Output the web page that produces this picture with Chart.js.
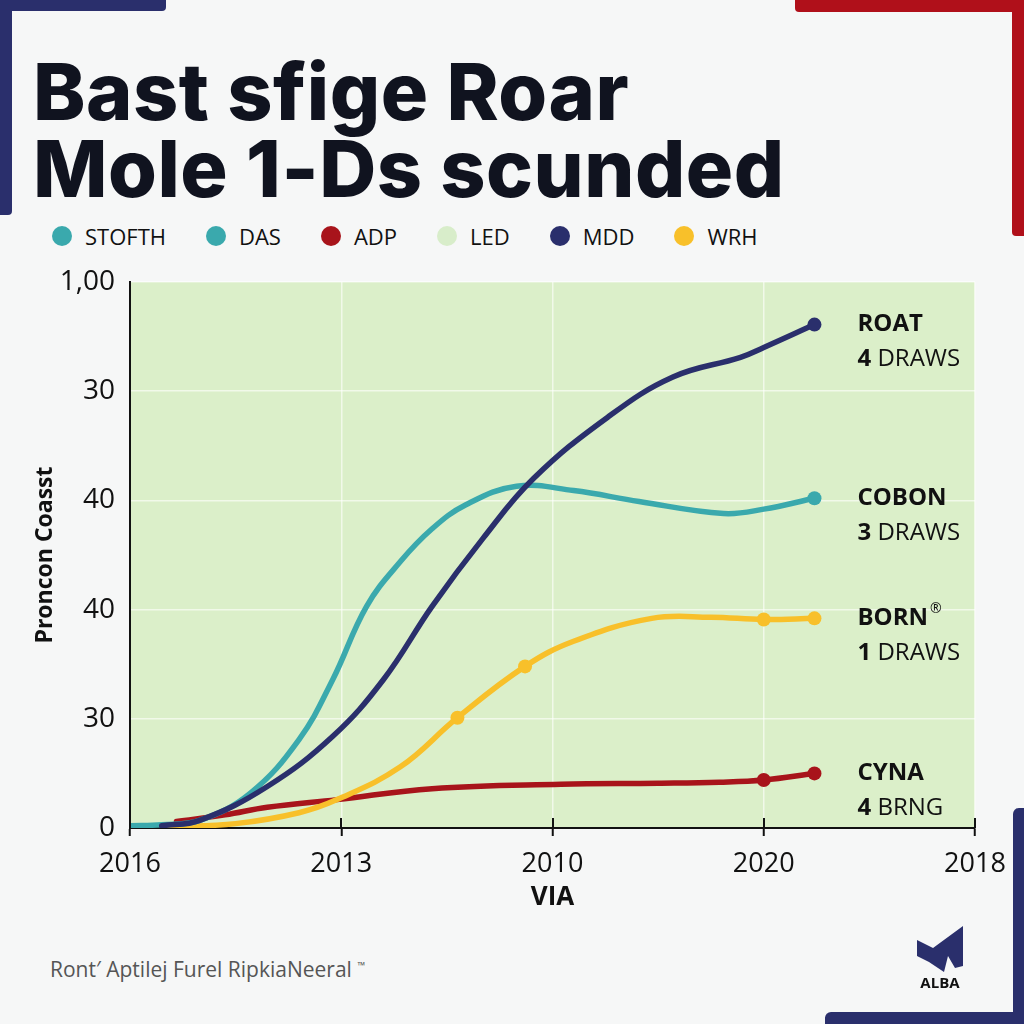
<!DOCTYPE html>
<html>
<head>
<meta charset="utf-8">
<script src="https://cdn.jsdelivr.net/npm/chart.js@4.4.0/dist/chart.umd.min.js"></script>
<style>
  html, body { margin: 0; padding: 0; }
  body { width: 1024px; height: 1024px; background: #f6f7f7; position: relative; overflow: hidden; font-family: "Open Sans", sans-serif; color: #111; }
  .bar { position: absolute; }
  h1 { position: absolute; left: 33px; top: 53px; margin: 0; font-family: Inter, sans-serif; font-weight: 800; font-size: 79px; line-height: 77px; letter-spacing: 0.5px; color: #10131f; white-space: nowrap; }
  #legend { position: absolute; left: 52px; top: 221px; display: flex; align-items: center; font-size: 22px; line-height: 30px; }
  .item { display: flex; align-items: center; margin-right: 40px; }
  .dot { width: 20px; height: 20px; border-radius: 50%; margin-right: 13px; }
  #wrap { position: absolute; left: 0; top: 240px; width: 1024px; height: 700px; }
  #foot { position: absolute; left: 50px; top: 951px; font-size: 21px; line-height: 29px; color: #555; }
  #logo { position: absolute; left: 917px; top: 926px; }
  #alba { position: absolute; left: 910px; top: 972px; width: 60px; text-align: center; font-weight: 700; font-size: 15px; line-height: 20px; }
</style>
</head>
<body>
<div class="bar" style="left:0;top:0;width:166px;height:11px;background:#2a2f6c;border-bottom-right-radius:4px"></div>
<div class="bar" style="left:0;top:0;width:12px;height:215px;background:#2a2f6c;border-bottom-right-radius:4px"></div>
<div class="bar" style="left:795px;top:0;width:229px;height:12px;background:#b0101a;border-bottom-left-radius:4px"></div>
<div class="bar" style="left:1012px;top:0;width:12px;height:236px;background:#b0101a;border-bottom-left-radius:4px"></div>
<div class="bar" style="left:1013px;top:808px;width:11px;height:216px;background:#2a2f6c;border-top-left-radius:6px"></div>
<div class="bar" style="left:825px;top:1012px;width:199px;height:12px;background:#2a2f6c;border-top-left-radius:6px"></div>

<h1>Bast sfige Roar<br>Mole 1-Ds scunded</h1>
<div id="legend"></div>
<div id="wrap"><canvas id="chart" width="1024" height="700"></canvas></div>
<div id="foot">Ront′ Aptilej Furel RipkiaNeeral <sup style="font-size:10px">™</sup></div>
<svg id="logo" width="46" height="46" viewBox="0 0 46 46">
  <polygon points="0,14 16,22 46,0 46,40 38,42 31,30 27,46 12,36 0,30" fill="#2a2f6c"/>
</svg>
<div id="alba">ALBA</div>

<script>
// axis / legend text
const xLabels = ["2016", "2013", "2010", "2020", "2018"];
const yLabels = ["0", "30", "40", "40", "30", "1,00"];
const legendNames = ["STOFTH", "DAS", "ADP", "LED", "MDD", "WRH"];
const legendColors = ["#3aa9ad", "#3aa9ad", "#a8141b", "#d8edca", "#2a2f6c", "#f8c02a"];

// series values (x on the 0..4 tick scale, y on the 0..5 tick scale)
const navyX = [0.15, 0.33, 0.65, 0.96, 1.20, 1.43, 1.67, 1.91, 2.26, 2.57, 2.89, 3.0, 3.24];
const navyY = [0.02, 0.07, 0.38, 0.84, 1.36, 2.03, 2.65, 3.2, 3.76, 4.13, 4.31, 4.40, 4.61];
const tealX = [0, 0.15, 0.33, 0.57, 0.80, 0.96, 1.12, 1.28, 1.43, 1.59, 1.83, 2.10, 2.41, 2.81, 3.0, 3.24];
const tealY = [0.02, 0.03, 0.07, 0.32, 0.81, 1.36, 2.03, 2.44, 2.74, 2.96, 3.13, 3.09, 2.99, 2.88, 2.92, 3.02];
const yellowX = [0.18, 0.5, 0.8, 0.98, 1.28, 1.55, 1.87, 2.1, 2.47, 2.75, 3.0, 3.24];
const yellowY = [0.01, 0.04, 0.14, 0.26, 0.56, 1.01, 1.48, 1.71, 1.92, 1.93, 1.91, 1.92];
const redX = [0.22, 0.45, 0.65, 0.98, 1.43, 2.04, 2.5, 2.79, 3.0, 3.24];
const redY = [0.06, 0.12, 0.19, 0.26, 0.36, 0.40, 0.41, 0.42, 0.44, 0.50];

// which points get a visible dot
const navyDots = [12];
const tealDots = [15];
const yellowDots = [5, 6, 10, 11];
const redDots = [8, 9];

// end-of-line labels
const endTitles = ["ROAT", "COBON", "BORN", "CYNA"];
const endMarks = ["", "", "®", ""];
const endCounts = ["4", "3", "1", "4"];
const endUnits = ["DRAWS", "DRAWS", "DRAWS", "BRNG"];

// html legend
const legendEl = document.getElementById("legend");
legendNames.forEach((name, i) => {
  const item = document.createElement("div");
  item.className = "item";
  item.innerHTML = '<span class="dot" style="background:' + legendColors[i] + '"></span><span>' + name + "</span>";
  legendEl.appendChild(item);
});

function pts(xs, ys) {
  return xs.map((x, i) => ({x: x, y: ys[i]}));
}
function dotSize(list) {
  return ctx => (list.includes(ctx.dataIndex) ? 7 : 0);
}
function line(label, xs, ys, color, dots) {
  return {
    label: label,
    data: pts(xs, ys),
    borderColor: color,
    backgroundColor: color,
    borderWidth: 5.5,
    tension: 0.4,
    pointRadius: dotSize(dots),
    pointHoverRadius: 0,
    pointBorderWidth: 0,
    pointBackgroundColor: color,
    borderCapStyle: "round",
    fill: false
  };
}

// green plot background
const plotBg = {
  id: "plotBg",
  beforeDraw(chart) {
    const a = chart.chartArea;
    const ctx = chart.ctx;
    ctx.save();
    ctx.fillStyle = "#dbefc9";
    ctx.fillRect(a.left, a.top, a.right - a.left, a.bottom - a.top);
    ctx.restore();
  }
};

// x tick marks cross the axis line
const upTicks = {
  id: "upTicks",
  afterDraw(chart) {
    const xs = chart.scales.x;
    const ctx = chart.ctx;
    const b = chart.chartArea.bottom;
    ctx.save();
    ctx.strokeStyle = "#111";
    ctx.lineWidth = 2;
    xs.ticks.forEach(t => {
      const px = Math.round(xs.getPixelForValue(t.value));
      ctx.beginPath();
      ctx.moveTo(px, b - 10);
      ctx.lineTo(px, b);
      ctx.stroke();
    });
    ctx.restore();
  }
};

// labels to the right of each line end
const endLabels = {
  id: "endLabels",
  afterDatasetsDraw(chart) {
    const ctx = chart.ctx;
    chart.data.datasets.forEach((ds, i) => {
      const meta = chart.getDatasetMeta(i);
      const last = meta.data[meta.data.length - 1];
      const x = last.x + 43;
      const y = last.y;
      ctx.save();
      ctx.fillStyle = "#111";
      ctx.textBaseline = "middle";
      ctx.textAlign = "left";
      ctx.font = 'bold 24px "Open Sans"';
      ctx.fillText(endTitles[i], x, y);
      if (endMarks[i]) {
        const w = ctx.measureText(endTitles[i]).width;
        ctx.font = '14px "Open Sans"';
        ctx.fillText(endMarks[i], x + w + 2, y - 9);
      }
      ctx.font = 'bold 24px "Open Sans"';
      const cnt = endCounts[i] + " ";
      ctx.fillText(cnt, x, y + 35);
      const cw = ctx.measureText(cnt).width;
      ctx.font = '24px "Open Sans"';
      ctx.fillText(endUnits[i], x + cw, y + 35);
      ctx.restore();
    });
  }
};

Chart.defaults.font.family = "'Open Sans', sans-serif";
Chart.defaults.color = "#111";

new Chart(document.getElementById("chart"), {
  type: "line",
  data: {
    datasets: [
      line("MDD", navyX, navyY, "#2a2f6c", navyDots),
      line("STOFTH", tealX, tealY, "#3aa9ad", tealDots),
      line("WRH", yellowX, yellowY, "#f8c02a", yellowDots),
      line("ADP", redX, redY, "#a8141b", redDots)
    ]
  },
  options: {
    responsive: false,
    animation: false,
    devicePixelRatio: 1,
    layout: { padding: { top: 42, right: 49, bottom: 0, left: 0 } },
    plugins: { legend: { display: false }, tooltip: { enabled: false } },
    scales: {
      x: {
        type: "linear",
        min: 0,
        max: 4,
        ticks: { stepSize: 1, autoSkip: false, maxRotation: 0, padding: 12, font: { size: 27 }, color: "#111",
          callback: v => xLabels[v] },
        grid: { color: "rgba(255,255,255,0.6)", lineWidth: 1.5, tickColor: "#111", tickLength: 8, tickWidth: 2 },
        border: { color: "#111", width: 2 },
        title: { display: true, text: "VIA", font: { size: 26, weight: "bold" }, color: "#111", padding: { top: 0, bottom: 27 } },
        afterFit(s) { s.height = 112; }
      },
      y: {
        min: 0,
        max: 5,
        ticks: { stepSize: 1, padding: 15, font: { size: 28 }, color: "#111",
          callback: v => yLabels[v] },
        grid: { color: "rgba(255,255,255,0.6)", lineWidth: 1.5, drawTicks: false },
        border: { color: "#111", width: 2 },
        title: { display: true, text: "Proncon Coasst", font: { size: 23, weight: "bold" }, color: "#111", padding: { top: 32, bottom: 0 } },
        afterFit(s) { s.width = 130; }
      }
    }
  },
  plugins: [plotBg, upTicks, endLabels]
});
</script>
</body>
</html>
